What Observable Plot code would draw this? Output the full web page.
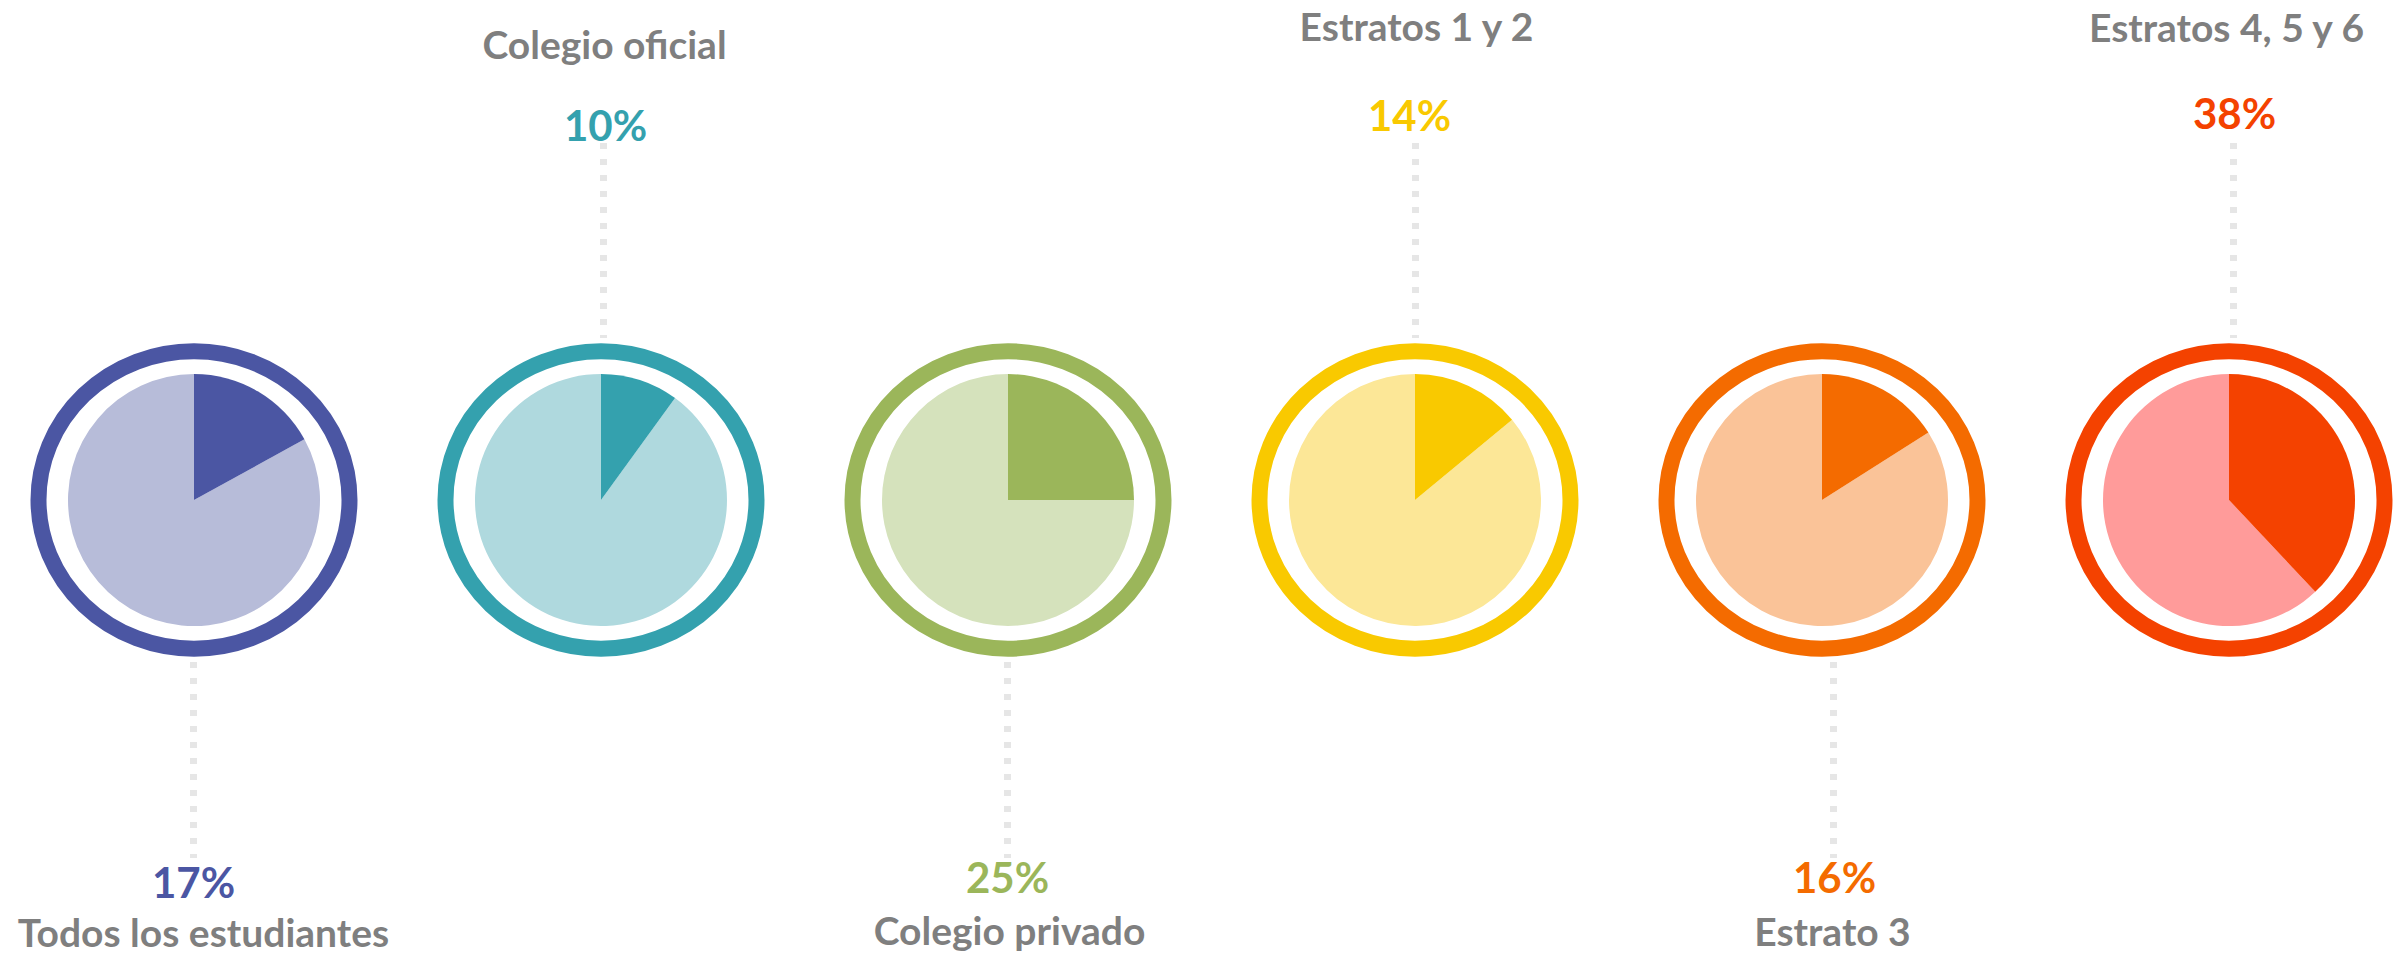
<!DOCTYPE html>
<html><head><meta charset="utf-8">
<script src="https://cdn.jsdelivr.net/npm/d3@7"></script>
<script src="https://cdn.jsdelivr.net/npm/@observablehq/plot@0.6"></script>
<style>html,body{margin:0;padding:0;background:#fff;overflow:hidden}</style>
</head><body><div id="chart"></div>
<script>
// ---- data ----
const categories = ["Todos los estudiantes", "Colegio oficial", "Colegio privado", "Estratos 1 y 2", "Estrato 3", "Estratos 4, 5 y 6"];
const values = [17, 10, 25, 14, 16, 38];
const percentLabels = ["17%", "10%", "25%", "14%", "16%", "38%"];
const darkColors = ["#4b56a3", "#34a1ae", "#9bb65a", "#f9c900", "#f46b00", "#f44200"];
const lightColors = ["#b7bcd9", "#afd9de", "#d5e2bc", "#fce797", "#fac398", "#ff9b9a"];
const placement = ["bottom", "top", "bottom", "top", "bottom", "top"];

// ---- layout ----
const W = 2402, H = 955, CY = 500;
const PIE_R = 126, RING_RX = 155.5, RING_RY = 148.75, RING_W = 16;
const titleY = [946, 58, 944, 40, 945, 41];
const pctY = [897, 140, 892, 130, 892, 128];
const titleDx = [9, 3, 1, 1, 10, -3];
const pctDx = [-1, 4, -1, -6, 12, 5];
const ruleDx = [-1, 2, -1, 0, 11, 4];
const GREY = "#7f7f7f";
const FONT = "Lato, 'Open Sans', sans-serif";

const rows = categories.map((c, i) => ({
  category: c, value: values[i], label: percentLabels[i],
  dark: darkColors[i], light: lightColors[i], place: placement[i], i
}));

function pies(index, scales) {
  const g = d3.create("svg:g");
  for (const d of rows) {
    const cx = scales.x(d.category), cy = scales.y(CY);
    const gg = g.append("g").attr("transform", `translate(${cx},${cy})`);
    const a = 2 * Math.PI * d.value / 100;
    gg.append("path")
      .attr("d", d3.arc()({innerRadius: 0, outerRadius: PIE_R, startAngle: a, endAngle: 2 * Math.PI}))
      .attr("fill", d.light);
    gg.append("path")
      .attr("d", d3.arc()({innerRadius: 0, outerRadius: PIE_R, startAngle: 0, endAngle: a}))
      .attr("fill", d.dark);
    gg.append("ellipse")
      .attr("rx", RING_RX).attr("ry", RING_RY)
      .attr("fill", "none").attr("stroke", d.dark).attr("stroke-width", RING_W);
  }
  return g.node();
}

const marks = [];
rows.forEach((d, i) => {
  const top = d.place === "top";
  marks.push(Plot.ruleX([d], {
    x: "category", y1: top ? 143 : 662, y2: top ? 338 : 858, dx: ruleDx[i],
    stroke: "#e6e6e6", strokeWidth: 7, strokeDasharray: "6,10"
  }));
  marks.push(Plot.text([d], {
    x: "category", y: () => titleY[i], text: "category", dx: titleDx[i],
    lineAnchor: "bottom", fill: GREY, fontSize: 39, fontWeight: "bold", fontFamily: FONT
  }));
  marks.push(Plot.text([d], {
    x: "category", y: () => pctY[i], text: "label", dx: pctDx[i],
    lineAnchor: "bottom", fill: d.dark, fontSize: 42, fontWeight: "bold", fontFamily: FONT
  }));
});
marks.push(pies);

const chart = Plot.plot({
  width: W, height: H, margin: 0,
  x: {type: "point", domain: categories, range: [193, 2229], padding: 0, axis: null},
  y: {type: "linear", domain: [0, H], range: [0, H], axis: null},
  style: {background: "#fff"},
  marks
});
document.getElementById("chart").appendChild(chart);
</script>
</body></html>
